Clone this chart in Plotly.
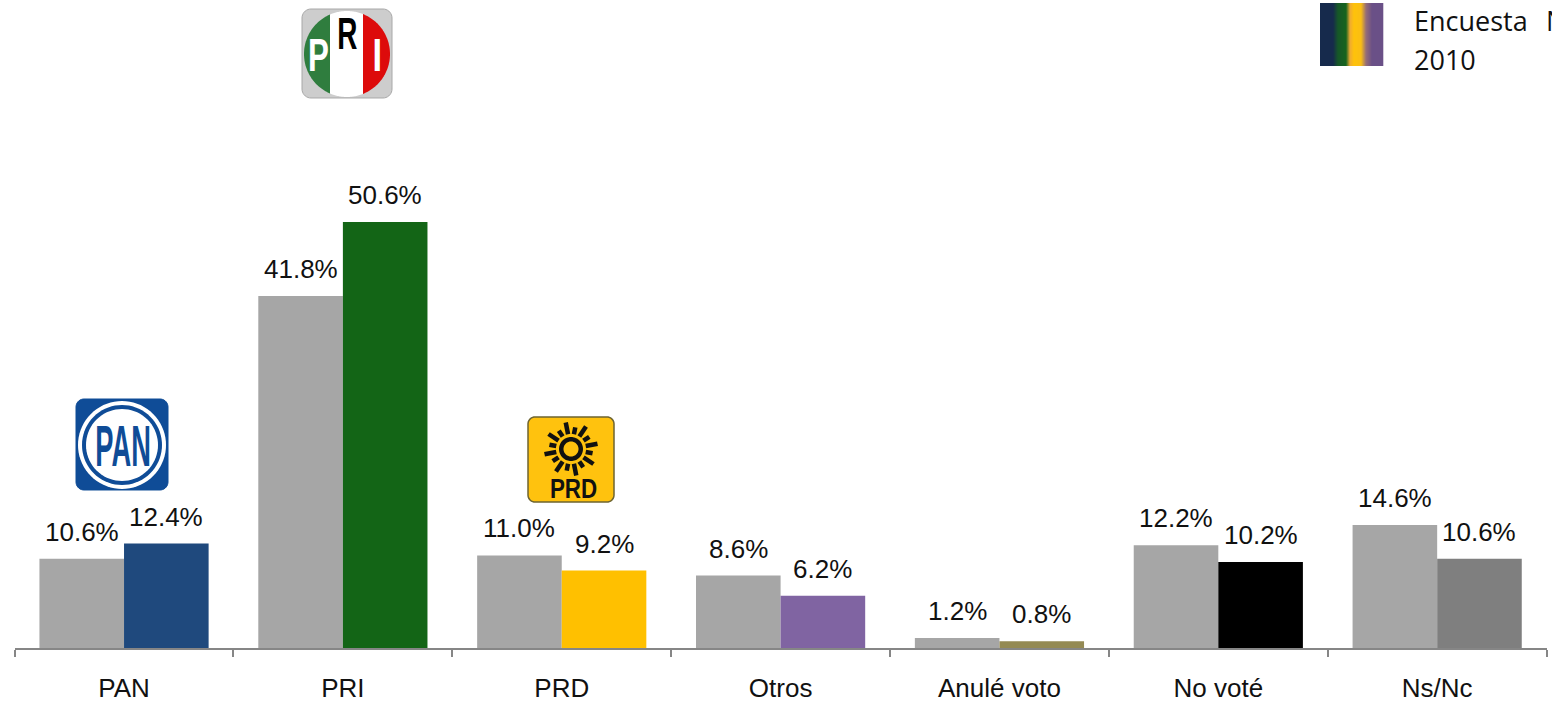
import numpy as np
import plotly.graph_objects as go

categories = ["PAN", "PRI", "PRD", "Otros", "Anulé voto", "No voté", "Ns/Nc"]
series_2006 = [10.6, 41.8, 11.0, 8.6, 1.2, 12.2, 14.6]
series_2010 = [12.4, 50.6, 9.2, 6.2, 0.8, 10.2, 10.6]
grey_colour = "#A6A6A6"
party_colours = ["#1F497D", "#136516", "#FFC000", "#8064A2", "#948A54", "#000000", "#7F7F7F"]

W, H = 1552, 701
LABEL_FONT = "Liberation Sans, Arial, sans-serif"


def px(x):
    return float(x) / W


def py(y):
    return 1 - float(y) / H


def path(points):
    return "M" + "L".join(f"{px(x):.5f},{py(y):.5f}" for x, y in points) + "Z"


def rounded(x0, y0, x1, y1, r):
    pts = []
    for cx, cy, a0 in [(x1 - r, y0 + r, -90), (x1 - r, y1 - r, 0), (x0 + r, y1 - r, 90), (x0 + r, y0 + r, 180)]:
        for a in np.radians(np.linspace(a0, a0 + 90, 10)):
            pts.append((cx + r * np.cos(a), cy + r * np.sin(a)))
    return path(pts)


def circle(cx, cy, r):
    return path([(cx + r * np.cos(a), cy + r * np.sin(a)) for a in np.radians(np.arange(0, 360, 5))])


def circle_band(cx, cy, r, xa, xb):
    """Part of a disc lying between two vertical lines."""
    a0 = np.arccos(np.clip((xb - cx) / r, -1, 1))
    a1 = np.arccos(np.clip((xa - cx) / r, -1, 1))
    top = [(cx + r * np.cos(a), cy - r * np.sin(a)) for a in np.linspace(a1, a0, 40)]
    bot = [(cx + r * np.cos(a), cy + r * np.sin(a)) for a in np.linspace(a0, a1, 40)]
    return path(top + bot)


shapes = []


def add(p, fill, line=None, lw=0):
    shapes.append(dict(type="path", xref="paper", yref="paper", path=p, fillcolor=fill,
                       line=dict(color=line or fill, width=lw), layer="above"))


annos = []


def text(x, y, s, size, color, bold=False, family=LABEL_FONT, anchor="center"):
    annos.append(dict(xref="paper", yref="paper", x=px(x), y=py(y), text=f"<b>{s}</b>" if bold else s,
                      showarrow=False, xanchor=anchor, yanchor="middle",
                      font=dict(size=size, color=color, family=family),
                      borderpad=0, borderwidth=0))


# PRI logo
add(rounded(302, 9, 392, 98, 9), "#CDCDCD", "#A8A8A8", 1)
add(circle_band(347, 54, 43, 304, 330), "#2F7D3E")
add(circle_band(347, 54, 43, 330, 363), "#FFFFFF")
add(circle_band(347, 54, 43, 363, 390), "#DD0B0B")
text(318, 55, "P", 46, "#FFFFFF", True)
text(347, 34, "R", 45, "#000000", True)
text(377, 55, "I", 46, "#FFFFFF", True)

# PAN logo
add(rounded(76, 399, 168, 490, 8), "#0F4C97", "#0F4C97", 1)
add(circle(122, 445, 44), "#FFFFFF")
add(circle(122, 445, 40), "#0F4C97")
add(circle(122, 445, 36), "#FFFFFF")
text(123, 445, "PAN", 58, "#0F4C97", True)

# PRD logo
add(rounded(528, 417, 614, 502, 7), "#FFC20E", "#6E6430", 1.5)
sx, sy = 571, 449
for i, a in enumerate(np.radians(np.arange(0, 360, 22.5) + 11.25)):
    r0, r1 = 15, (27 if i % 2 else 22)
    shapes.append(dict(type="line", xref="paper", yref="paper", layer="above",
                       x0=px(sx + r0 * np.cos(a)), y0=py(sy + r0 * np.sin(a)),
                       x1=px(sx + r1 * np.cos(a)), y1=py(sy + r1 * np.sin(a)),
                       line=dict(color="#111111", width=4.5)))
add(circle(sx, sy, 12), "#111111")
add(circle(sx, sy, 7.5), "#FFC20E")
text(573, 488, "PRD", 28, "#111111", True)

# Gradient swatch
stops_x = [1320, 1333, 1338, 1346, 1350, 1354, 1361, 1366, 1372, 1383]
stops_c = [(22, 42, 76), (22, 42, 76), (22, 88, 40), (22, 100, 30), (240, 170, 50), (255, 195, 10),
           (250, 190, 20), (150, 110, 120), (106, 80, 135), (106, 80, 135)]
for xa in range(1320, 1383):
    c = [int(np.interp(xa + 0.5, stops_x, [s[k] for s in stops_c])) for k in range(3)]
    col = f"rgb({c[0]},{c[1]},{c[2]})"
    shapes.append(dict(type="rect", xref="paper", yref="paper", layer="above",
                       x0=px(xa), x1=px(xa + 1.3), y0=py(3), y1=py(66),
                       fillcolor=col, line=dict(width=0)))

text(1414, 20, "Encuesta", 27, "#111111", False, "Open Sans", "left")
text(1546, 20, "N", 27, "#111111", False, "Open Sans", "left")
text(1414, 59, "2010", 27, "#111111", False, "Open Sans", "left")

fig = go.Figure()
fig.add_bar(x=categories, y=series_2006, marker=dict(color=grey_colour, line=dict(width=0)), name="Previa")
fig.add_bar(x=categories, y=series_2010, marker=dict(color=party_colours, line=dict(width=0)), name="Encuesta")

BAR_SHIFT = 42.3
for cat, a, b in zip(categories, series_2006, series_2010):
    for val, dx in ((a, -BAR_SHIFT), (b, BAR_SHIFT)):
        annos.append(dict(x=cat, y=val, xref="x", yref="y", text=f"{val:.1f}%", showarrow=False,
                          xanchor="center", yanchor="bottom", xshift=dx, yshift=10,
                          font=dict(size=26, color="#111111", family=LABEL_FONT)))

fig.update_layout(
    width=W, height=H, margin=dict(l=0, r=0, t=0, b=0, autoexpand=False),
    paper_bgcolor="white", plot_bgcolor="white", showlegend=False,
    barmode="group", bargap=0.227, bargroupgap=0,
    shapes=shapes, annotations=annos,
    xaxis=dict(domain=[14.6 / W, 1546.6 / W], type="category", tickson="boundaries", ticks="outside", ticklen=7,
               tickcolor="#868686", tickwidth=1.5, showline=True, linecolor="#868686", linewidth=1.5,
               showgrid=False, zeroline=False, ticklabelstandoff=16, automargin=False,
               tickfont=dict(size=26, color="#111111", family=LABEL_FONT)),
    yaxis=dict(domain=[(H - 648) / H, 1], range=[0, 648 / 8.42], visible=False, showgrid=False, zeroline=False),
)

# Logo lettering is condensed: squeeze those few annotations horizontally around their centres.
squeeze = """
document.body.style.margin='0';document.body.style.overflow='hidden';
var scales={'P':0.68,'R':0.62,'I':0.75,'PAN':0.47,'PRD':0.8};
document.querySelectorAll('.annotation-text').forEach(function(t){
  var s=scales[t.textContent];
  if(s){var b=t.getBBox();var c=b.x+b.width/2;
    t.setAttribute('transform','translate('+c+',0) scale('+s+',1) translate('+(-c)+',0)');}
});
"""
fig.write_html("out.html", post_script=squeeze, config={"displayModeBar": False})
